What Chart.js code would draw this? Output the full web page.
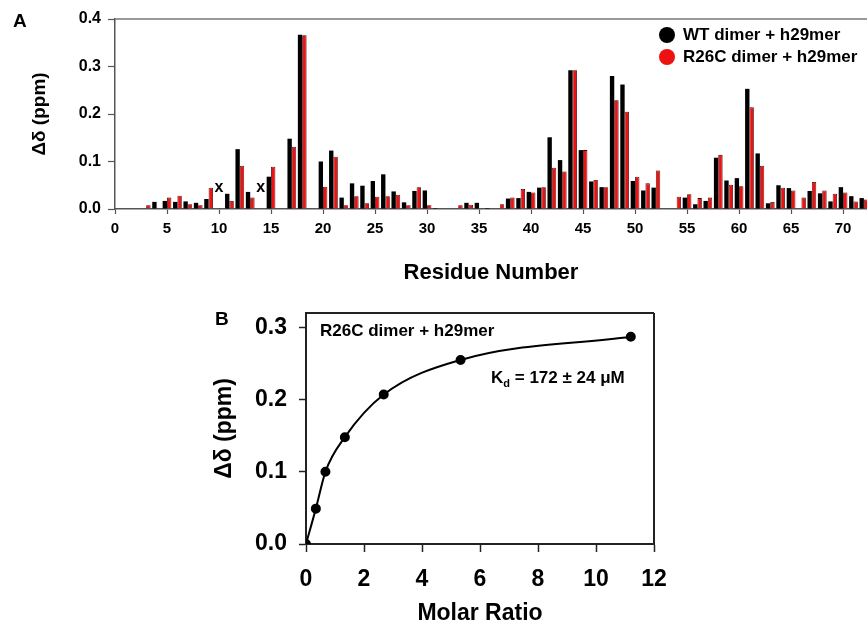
<!DOCTYPE html>
<html>
<head>
<meta charset="utf-8">
<script src="https://cdn.jsdelivr.net/npm/chart.js@4.4.0/dist/chart.umd.min.js"></script>
<style>
body{margin:0;width:867px;height:623px;overflow:hidden;background:#fff;position:relative;font-family:"Liberation Sans",Arial,sans-serif}
#wrapA{position:absolute;left:0;top:0}
#wrapB{position:absolute;left:200px;top:300px}
.lbl{position:absolute;font-weight:bold;color:#000;white-space:nowrap;line-height:20px}
.dot{position:absolute;width:16px;height:16px;border-radius:50%}
</style>
</head>
<body>
<div id="wrapA"><canvas id="chartA" width="867" height="290"></canvas></div>
<div id="wrapB"><canvas id="chartB" width="470" height="330"></canvas></div>

<div class="lbl" style="left:13px;top:11px;font-size:19px">A</div>
<div class="dot" style="left:659px;top:27px;background:#000"></div>
<div class="lbl" style="left:683px;top:25px;font-size:17px">WT dimer + h29mer</div>
<div class="dot" style="left:659px;top:49px;background:#ee1111"></div>
<div class="lbl" style="left:683px;top:47px;font-size:17px">R26C dimer + h29mer</div>

<div class="lbl" style="left:215px;top:309px;font-size:19px">B</div>
<div class="lbl" style="left:320px;top:321px;font-size:17px">R26C dimer + h29mer</div>
<div class="lbl" style="left:491px;top:368px;font-size:17px">K<sub style="font-size:11px">d</sub> = 172 &plusmn; 24 &mu;M</div>

<script>
const FONT = '"Liberation Sans", Arial, sans-serif';

// panel A: chemical shift change per residue (null = no data)
const residues = [];
for (let i = 1; i <= 72; i++) residues.push(i);

const wtShift = [
  null, null, null, 0.015, 0.017, 0.015, 0.016, 0.013, 0.021, null,
  0.032, 0.126, 0.036, null, 0.068, null, 0.148, 0.367, null, 0.100,
  0.123, 0.024, 0.054, 0.049, 0.059, 0.073, 0.037, 0.014, 0.038, 0.039,
  0.002, null, null, 0.013, 0.013, 0.002, null, 0.022, 0.023, 0.036,
  0.045, 0.151, 0.103, 0.292, 0.124, 0.058, 0.046, 0.280, 0.262, 0.059,
  0.039, 0.045, null, null, 0.024, 0.010, 0.017, 0.108, 0.060, 0.065,
  0.253, 0.117, 0.012, 0.050, 0.044, null, 0.038, 0.033, 0.016, 0.046,
  0.027, 0.023
];
const r26cShift = [
  null, null, 0.008, null, 0.024, 0.028, 0.010, 0.008, 0.045, null,
  0.017, 0.091, 0.024, null, 0.089, null, 0.131, 0.366, null, 0.047,
  0.110, 0.008, 0.027, 0.012, 0.026, 0.027, 0.030, 0.008, 0.046, 0.008,
  null, null, 0.008, 0.009, null, null, 0.010, 0.024, 0.042, 0.035,
  0.046, 0.087, 0.079, 0.292, 0.124, 0.061, 0.046, 0.229, 0.205, 0.068,
  0.054, 0.081, null, 0.026, 0.031, 0.023, 0.024, 0.114, 0.051, 0.048,
  0.214, 0.091, 0.015, 0.045, 0.039, 0.024, 0.057, 0.039, 0.032, 0.035,
  0.016, 0.020
];
// residues marked with an "x" in the plot
const crossedResidues = [10, 14];
const crossLevel = 0.046;

// panel B: titration
const molarRatio = [0, 0.34, 0.67, 1.34, 2.68, 5.33, 11.2];
const titrationShift = [0, 0.049, 0.100, 0.148, 0.207, 0.255, 0.287];

function pairs(xs, ys) {
  return xs.map((x, i) => ({x: x, y: ys[i]}));
}

// fixed axis sizes, no extra padding for the end labels
function fixWidth(w) {
  return s => { s.width = w; s.paddingTop = 0; s.paddingBottom = 0; };
}
function fixHeight(h) {
  return s => { s.height = h; s.paddingLeft = 0; s.paddingRight = 0; };
}

// draws the extra frame lines around a chart area
function framePlugin(sides, color, width) {
  return {
    id: 'frame',
    afterDraw(chart) {
      const a = chart.chartArea, c = chart.ctx;
      c.save();
      c.strokeStyle = color;
      c.lineWidth = width;
      c.beginPath();
      if (sides.includes('top')) { c.moveTo(a.left, a.top); c.lineTo(a.right, a.top); }
      if (sides.includes('right')) { c.moveTo(a.right, a.top); c.lineTo(a.right, a.bottom); }
      c.stroke();
      c.restore();
    }
  };
}

const crossPlugin = {
  id: 'crosses',
  afterDatasetsDraw(chart) {
    const c = chart.ctx;
    c.save();
    c.font = 'bold 16px ' + FONT;
    c.fillStyle = '#000';
    c.textAlign = 'center';
    c.textBaseline = 'middle';
    crossedResidues.forEach(r => {
      c.fillText('x', chart.scales.x.getPixelForValue(r), chart.scales.y.getPixelForValue(crossLevel));
    });
    c.restore();
  }
};

new Chart(document.getElementById('chartA'), {
  type: 'bar',
  data: {
    datasets: [
      {
        label: 'WT dimer + h29mer',
        data: pairs(residues, wtShift),
        backgroundColor: '#000',
        borderColor: '#000',
        borderWidth: 0
      },
      {
        label: 'R26C dimer + h29mer',
        data: pairs(residues, r26cShift),
        backgroundColor: '#ee1111',
        borderColor: '#3a0000',
        borderWidth: 0.8
      }
    ]
  },
  options: {
    responsive: false,
    animation: false,
    layout: {padding: {left: 0, right: 0, top: 19, bottom: 0}},
    datasets: {bar: {categoryPercentage: 0.84, barPercentage: 1.0}},
    plugins: {legend: {display: false}, tooltip: {enabled: false}},
    scales: {
      x: {
        type: 'linear',
        offset: false,
        min: 0,
        max: 72.3,
        afterFit: fixHeight(81),
        grid: {offset: false, drawOnChartArea: false, tickLength: 5, tickColor: '#555', tickWidth: 1.2},
        border: {color: '#555', width: 1.5},
        ticks: {
          stepSize: 5,
          includeBounds: false,
          autoSkip: false,
          maxRotation: 0,
          padding: 6,
          color: '#000',
          font: {family: FONT, size: 15, weight: 'bold'}
        },
        title: {
          display: true,
          text: 'Residue Number',
          color: '#000',
          font: {family: FONT, size: 22, weight: 'bold'},
          padding: {top: 0, bottom: 4}
        }
      },
      y: {
        min: 0,
        max: 0.4,
        afterFit: fixWidth(115),
        grid: {drawOnChartArea: false, tickLength: 7, tickColor: '#555', tickWidth: 1.2},
        border: {color: '#555', width: 1.5},
        ticks: {
          stepSize: 0.1,
          includeBounds: false,
          padding: 7,
          color: '#000',
          font: {family: FONT, size: 16, weight: 'bold'},
          callback: v => v.toFixed(1)
        },
        title: {
          display: true,
          text: 'Δδ (ppm)',
          color: '#000',
          font: {family: FONT, size: 19, weight: 'bold'},
          padding: {top: 28, bottom: 0}
        }
      }
    }
  },
  plugins: [framePlugin(['top'], '#777', 1.5), crossPlugin]
});

new Chart(document.getElementById('chartB'), {
  type: 'scatter',
  data: {
    datasets: [{
      label: 'R26C dimer + h29mer',
      data: pairs(molarRatio, titrationShift),
      showLine: true,
      cubicInterpolationMode: 'monotone',
      borderColor: '#000',
      borderWidth: 2,
      pointRadius: 4,
      pointBackgroundColor: '#000',
      pointBorderColor: '#000'
    }]
  },
  options: {
    responsive: false,
    animation: false,
    layout: {padding: {left: 0, right: 16, top: 13, bottom: 0}},
    plugins: {legend: {display: false}, tooltip: {enabled: false}},
    scales: {
      x: {
        type: 'linear',
        min: 0,
        max: 12,
        afterFit: fixHeight(86),
        grid: {drawOnChartArea: false, tickLength: 8, tickColor: '#222', tickWidth: 1.5},
        border: {color: '#222', width: 2},
        ticks: {
          stepSize: 2,
          autoSkip: false,
          maxRotation: 0,
          padding: 14,
          color: '#000',
          font: {family: FONT, size: 23, weight: 'bold'}
        },
        title: {
          display: true,
          text: 'Molar Ratio',
          color: '#000',
          font: {family: FONT, size: 23, weight: 'bold'},
          padding: {top: 0, bottom: 3}
        }
      },
      y: {
        min: 0,
        max: 0.32,
        afterFit: fixWidth(106),
        grid: {drawOnChartArea: false, tickLength: 7, tickColor: '#222', tickWidth: 1.5},
        border: {color: '#222', width: 2},
        ticks: {
          stepSize: 0.1,
          includeBounds: false,
          padding: 12,
          color: '#000',
          font: {family: FONT, size: 23, weight: 'bold'},
          callback: v => v.toFixed(1)
        },
        title: {
          display: true,
          text: 'Δδ (ppm)',
          color: '#000',
          font: {family: FONT, size: 23, weight: 'bold'},
          padding: {top: 11, bottom: 0}
        }
      }
    }
  },
  plugins: [framePlugin(['top', 'right'], '#222', 2)]
});
</script>
</body>
</html>
